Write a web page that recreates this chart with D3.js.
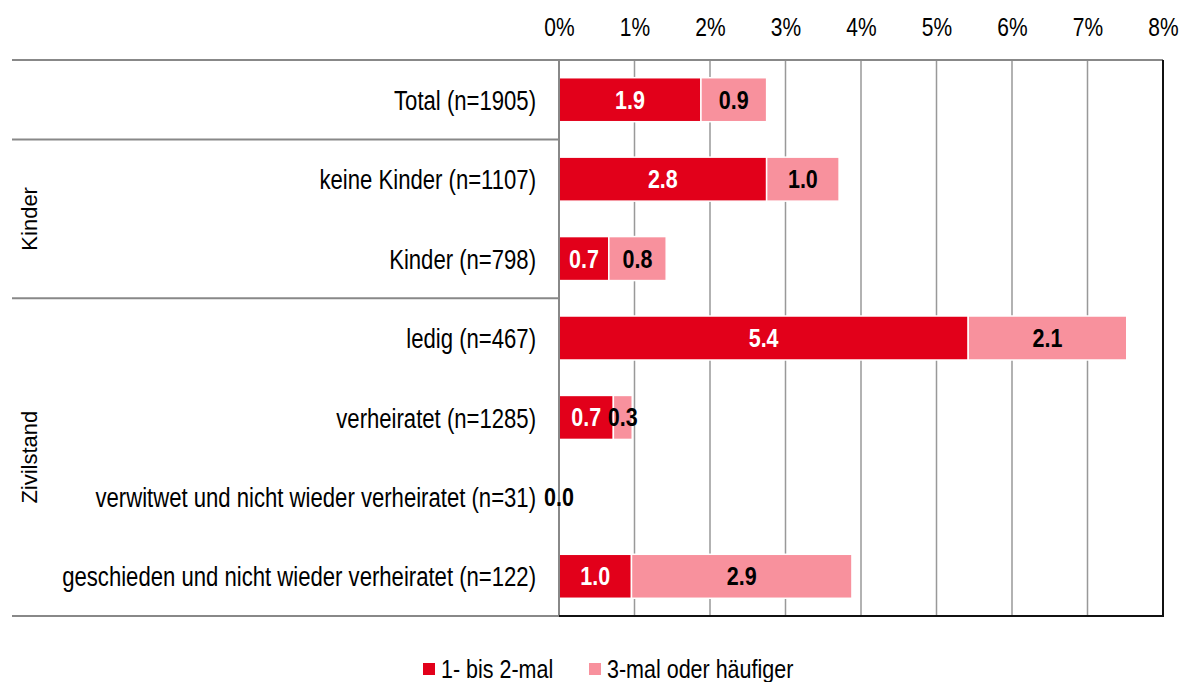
<!DOCTYPE html>
<html>
<head>
<meta charset="utf-8">
<script src="https://cdn.jsdelivr.net/npm/d3@7"></script>
<style>
  body { margin: 0; background: #fff; }
  svg { display: block; }
  text { font-family: "Liberation Sans", Arial, sans-serif; }
</style>
</head>
<body>
<div id="chart"></div>
<script>
// categories (top to bottom)
var categories = [
  "Total (n=1905)",
  "keine Kinder (n=1107)",
  "Kinder (n=798)",
  "ledig (n=467)",
  "verheiratet (n=1285)",
  "verwitwet und nicht wieder verheiratet (n=31)",
  "geschieden und nicht wieder verheiratet (n=122)"
];

// series values in %
var seriesNames = ["1- bis 2-mal", "3-mal oder häufiger"];
var seriesColors = ["#e2001a", "#f8919d"];
var oneToTwo = [1.88, 2.75, 0.66, 5.42, 0.72, 0.0, 0.96];
var threePlus = [0.87, 0.96, 0.76, 2.10, 0.25, 0.0, 2.92];
var labelOneToTwo = ["1.9", "2.8", "0.7", "5.4", "0.7", "0.0", "1.0"];
var labelThreePlus = ["0.9", "1.0", "0.8", "2.1", "0.3", "0.0", "2.9"];

// group labels: name, first and last row index
var groups = [
  { name: "Kinder", from: 1, to: 2 },
  { name: "Zivilstand", from: 3, to: 6 }
];

var xTicks = [0, 1, 2, 3, 4, 5, 6, 7, 8];

var width = 1182, height = 682;
var margin = { top: 60, right: 19, bottom: 66, left: 559 };
var leftEdge = 12;

var svg = d3.select("#chart").append("svg")
  .attr("width", width)
  .attr("height", height);

var x = d3.scaleLinear()
  .domain([0, 8])
  .range([margin.left, width - margin.right]);

var y = d3.scaleBand()
  .domain(categories)
  .range([margin.top, height - margin.bottom])
  .paddingInner(0.446)
  .paddingOuter(0.223);

var rowStep = y.step();
var rowTop = function(i) { return margin.top + i * rowStep; };

var plotTop = margin.top, plotBottom = height - margin.bottom;

// the reference uses a narrow face, so squeeze texts horizontally
function narrow(sel, sx) {
  sel.each(function() {
    var t = d3.select(this);
    var tx = +t.attr("x") || 0, ty = +t.attr("y") || 0;
    t.attr("x", 0).attr("y", 0)
      .attr("transform", "translate(" + tx + "," + ty + ") scale(" + sx + ",1)");
  });
}

// gridlines
svg.append("g").selectAll("line")
  .data(xTicks.filter(function(d) { return d > 0 && d < 8; }))
  .enter().append("line")
  .attr("x1", function(d) { return x(d); })
  .attr("x2", function(d) { return x(d); })
  .attr("y1", plotTop)
  .attr("y2", plotBottom)
  .attr("stroke", "#999")
  .attr("stroke-width", 1.5);

// stacked bars
var stackData = categories.map(function(c, i) {
  return { cat: c, a: oneToTwo[i], b: threePlus[i], la: labelOneToTwo[i], lb: labelThreePlus[i] };
});

var bars = svg.append("g");
bars.selectAll("rect.a")
  .data(stackData)
  .enter().append("rect")
  .attr("class", "a")
  .attr("x", x(0))
  .attr("y", function(d) { return y(d.cat); })
  .attr("width", function(d) { return x(d.a) - x(0); })
  .attr("height", y.bandwidth())
  .attr("fill", seriesColors[0])
  .attr("stroke", "#fff")
  .attr("stroke-width", function(d) { return d.a > 0 ? 1.5 : 0; });

bars.selectAll("rect.b")
  .data(stackData)
  .enter().append("rect")
  .attr("class", "b")
  .attr("x", function(d) { return x(d.a); })
  .attr("y", function(d) { return y(d.cat); })
  .attr("width", function(d) { return x(d.a + d.b) - x(d.a); })
  .attr("height", y.bandwidth())
  .attr("fill", seriesColors[1])
  .attr("stroke", "#fff")
  .attr("stroke-width", function(d) { return d.b > 0 ? 1.5 : 0; });

// frame
svg.append("line") // left axis
  .attr("x1", x(0)).attr("x2", x(0))
  .attr("y1", plotTop).attr("y2", plotBottom)
  .attr("stroke", "#888").attr("stroke-width", 2);
svg.append("line") // top
  .attr("x1", leftEdge).attr("x2", x(8))
  .attr("y1", plotTop).attr("y2", plotTop)
  .attr("stroke", "#888").attr("stroke-width", 2);
svg.append("line") // right
  .attr("x1", x(8)).attr("x2", x(8))
  .attr("y1", plotTop).attr("y2", plotBottom)
  .attr("stroke", "#111").attr("stroke-width", 2);
svg.append("line") // bottom left part
  .attr("x1", leftEdge).attr("x2", x(0))
  .attr("y1", plotBottom).attr("y2", plotBottom)
  .attr("stroke", "#888").attr("stroke-width", 2);
svg.append("line") // bottom plot part
  .attr("x1", x(0)).attr("x2", x(8) + 1)
  .attr("y1", plotBottom).attr("y2", plotBottom)
  .attr("stroke", "#111").attr("stroke-width", 2);

// group separators
groups.forEach(function(g) {
  svg.append("line")
    .attr("x1", leftEdge).attr("x2", x(0))
    .attr("y1", rowTop(g.from)).attr("y2", rowTop(g.from))
    .attr("stroke", "#888").attr("stroke-width", 2);
});

// group labels
svg.append("g").selectAll("text")
  .data(groups)
  .enter().append("text")
  .attr("transform", function(g) {
    var cy = (rowTop(g.from) + rowTop(g.to + 1)) / 2;
    return "translate(37," + cy + ") rotate(-90)";
  })
  .attr("text-anchor", "middle")
  .style("font-size", "22px")
  .attr("fill", "#000")
  .text(function(g) { return g.name; });

// top axis
var axis = d3.axisTop(x)
  .tickValues(xTicks)
  .tickFormat(function(d) { return d + "%"; })
  .tickSize(0)
  .tickPadding(0);
var ax = svg.append("g")
  .attr("transform", "translate(0,36)")
  .call(axis);
ax.select(".domain").remove();
ax.selectAll("text")
  .style("font-family", "'Liberation Sans', Arial, sans-serif")
  .style("font-size", "25px")
  .attr("fill", "#000")
  .call(narrow, 0.84);

// category labels
svg.append("g").selectAll("text")
  .data(categories)
  .enter().append("text")
  .attr("x", x(0) - 23)
  .attr("y", function(d) { return y(d) + y.bandwidth() / 2; })
  .attr("dy", "0.36em")
  .attr("text-anchor", "end")
  .style("font-size", "28px")
  .attr("fill", "#000")
  .text(function(d) { return d; })
  .call(narrow, 0.79);

// value labels
var labels = svg.append("g")
  .style("font-size", "25px")
  .style("font-weight", "bold")
  .attr("text-anchor", "middle");
labels.selectAll("text.a")
  .data(stackData)
  .enter().append("text")
  .attr("x", function(d) { return (x(0) + x(d.a)) / 2; })
  .attr("y", function(d) { return y(d.cat) + y.bandwidth() / 2; })
  .attr("dy", "0.36em")
  .attr("fill", "#fff")
  .text(function(d) { return d.la; })
  .call(narrow, 0.86);
labels.selectAll("text.b")
  .data(stackData)
  .enter().append("text")
  .attr("x", function(d) { return (x(d.a) + x(d.a + d.b)) / 2; })
  .attr("y", function(d) { return y(d.cat) + y.bandwidth() / 2; })
  .attr("dy", "0.36em")
  .attr("fill", "#000")
  .text(function(d) { return d.lb; })
  .call(narrow, 0.86);

// legend
var legendX = [423, 589];
var legend = svg.append("g").selectAll("g")
  .data(seriesNames)
  .enter().append("g")
  .attr("transform", function(d, i) { return "translate(" + legendX[i] + ",663)"; });
legend.append("rect")
  .attr("width", 12).attr("height", 12)
  .attr("fill", function(d, i) { return seriesColors[i]; });
legend.append("text")
  .attr("x", 18)
  .attr("y", 14.5)
  .style("font-size", "25px")
  .attr("fill", "#000")
  .text(function(d) { return d; })
  .call(narrow, 0.86);
</script>
</body>
</html>
